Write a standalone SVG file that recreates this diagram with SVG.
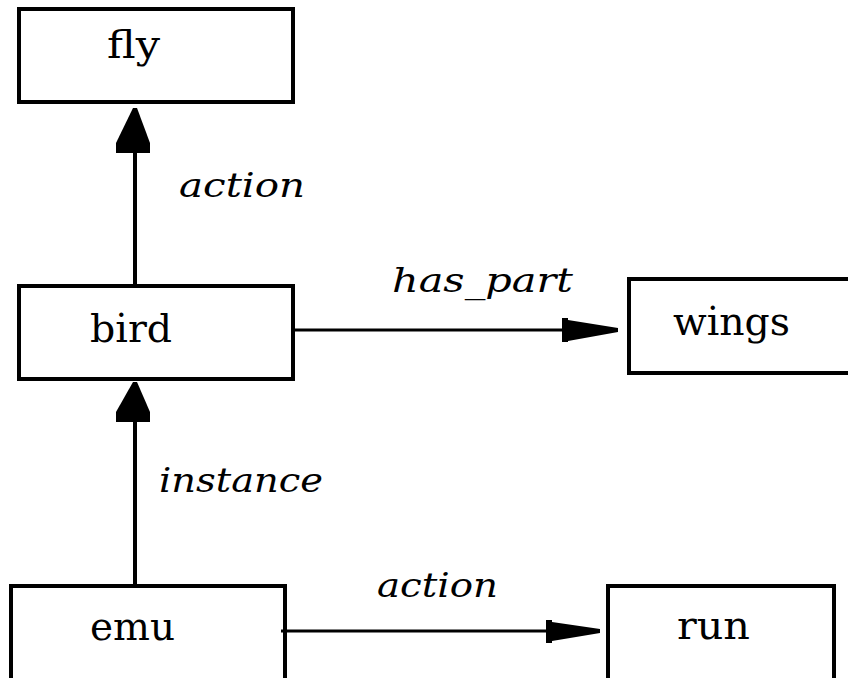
<svg xmlns="http://www.w3.org/2000/svg" width="848" height="678" viewBox="0 0 848 678">
<style>
.box{fill:#fff;stroke:#000;stroke-width:4}
.lbl{font-family:"DejaVu Serif","Liberation Serif",serif;font-size:40px;fill:#000}
.rel{font-family:"DejaVu Serif","Liberation Serif",serif;font-size:34px;font-style:italic;fill:#000}
.ln{stroke:#000;stroke-width:4;fill:none}
.hd{fill:#000}
</style>
<rect width="848" height="678" fill="#fff"/>
<g id="fly"><rect class="box" x="19" y="9" width="274" height="93"/><text class="lbl" x="107" y="58" textLength="53" lengthAdjust="spacingAndGlyphs">fly</text></g>
<g id="bird"><rect class="box" x="19" y="286" width="274" height="93"/><text class="lbl" x="90" y="342" textLength="82" lengthAdjust="spacingAndGlyphs">bird</text></g>
<g id="wings"><rect class="box" x="629" y="279" width="260" height="94"/><text class="lbl" x="673" y="335" textLength="117" lengthAdjust="spacingAndGlyphs">wings</text></g>
<g id="emu"><rect class="box" x="11" y="586" width="274" height="120"/><text class="lbl" x="90" y="640" textLength="85" lengthAdjust="spacingAndGlyphs">emu</text></g>
<g id="run"><rect class="box" x="608" y="586" width="226" height="120"/><text class="lbl" x="677" y="639" textLength="73" lengthAdjust="spacingAndGlyphs">run</text></g>
<g id="connectors">
<line class="ln" x1="135" y1="284" x2="135" y2="150"/>
<polygon class="hd" points="133,108 137,108 150,143 150,153 116,153 116,143"/>
<text class="rel" x="179" y="197" textLength="126" lengthAdjust="spacingAndGlyphs">action</text>
<line class="ln" x1="135" y1="584" x2="135" y2="420"/>
<polygon class="hd" points="133,382 137,382 150,412 150,422 116,422 116,412"/>
<text class="rel" x="159" y="492" textLength="164" lengthAdjust="spacingAndGlyphs">instance</text>
<line class="ln" x1="295" y1="330" x2="565" y2="330" style="stroke-width:3"/>
<polygon class="hd" points="562,318 568,318 568,320 618,328 618,332 568,341 568,342 562,342"/>
<text class="rel" x="392" y="292" textLength="181" lengthAdjust="spacingAndGlyphs">has_part</text>
<line class="ln" x1="281" y1="631" x2="550" y2="631" style="stroke-width:3"/>
<polygon class="hd" points="546,620 552,620 552,622 600,629 600,633 552,641 552,643 546,643"/>
<text class="rel" x="377" y="597" textLength="121" lengthAdjust="spacingAndGlyphs">action</text>
</g>
</svg>
